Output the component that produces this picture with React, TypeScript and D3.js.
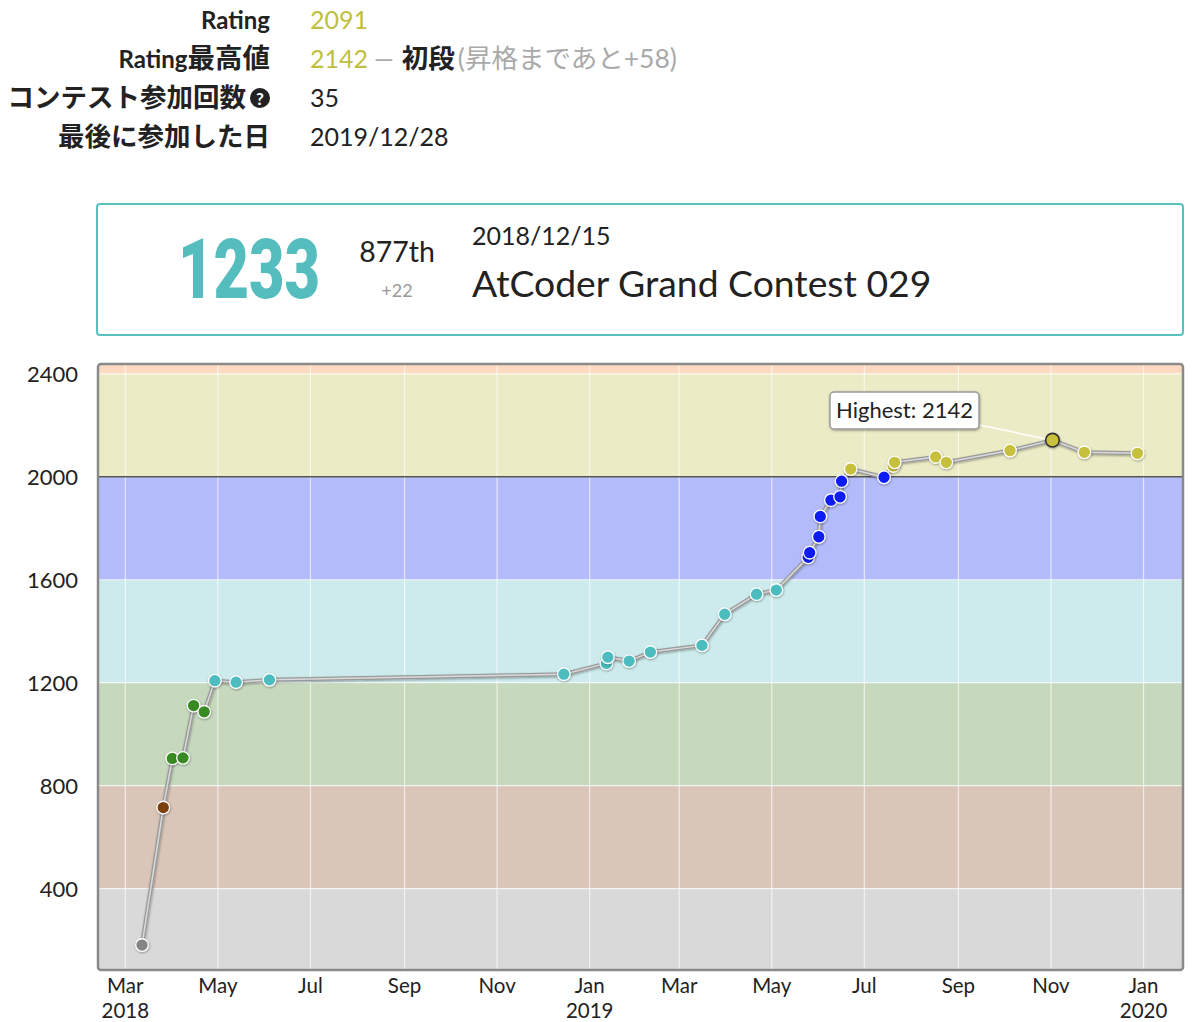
import React from "react";
import * as d3 from "d3";

// ---- data ----
const contestDates: string[] = [
  "2018-03-12", "2018-03-26", "2018-04-01", "2018-04-08", "2018-04-15", "2018-04-22",
  "2018-04-29", "2018-05-13", "2018-06-04", "2018-12-15", "2019-01-12", "2019-01-13",
  "2019-01-27", "2019-02-10", "2019-03-16", "2019-03-31", "2019-04-21", "2019-05-04",
  "2019-05-25", "2019-05-26", "2019-06-01", "2019-06-02", "2019-06-09", "2019-06-15",
  "2019-06-16", "2019-06-22", "2019-07-14", "2019-07-20", "2019-07-21", "2019-08-17",
  "2019-08-24", "2019-10-05", "2019-11-02", "2019-11-23", "2019-12-28",
];
const ratings: number[] = [
  181, 715, 906, 908, 1111, 1087, 1208, 1202, 1211, 1233, 1275, 1299,
  1284, 1319, 1345, 1466, 1544, 1560, 1687, 1705, 1767, 1846, 1909, 1922,
  1983, 2030, 1998, 2042, 2056, 2077, 2056, 2102, 2142, 2095, 2091,
];
const bandLimits: number[] = [0, 400, 800, 1200, 1600, 2000, 2400, 2800];
const bandFills: string[] = ["#d9d9d9", "#d9c6b8", "#c6d9bd", "#cdebec", "#b3bbfa", "#ebebc6", "#fcd9c1"];
const pointColors: string[] = ["#858585", "#7c3f10", "#398a22", "#4dbcbe", "#0a1ef5", "#c6c03c", "#ff8000"];
const yTicks: number[] = [400, 800, 1200, 1600, 2000, 2400];
const xTickDates: string[] = [
  "2018-03-01", "2018-05-01", "2018-07-01", "2018-09-01", "2018-11-01", "2019-01-01",
  "2019-03-01", "2019-05-01", "2019-07-01", "2019-09-01", "2019-11-01", "2020-01-01",
];
const xTickMonths: string[] = ["Mar", "May", "Jul", "Sep", "Nov", "Jan", "Mar", "May", "Jul", "Sep", "Nov", "Jan"];
const xTickYears: string[] = ["2018", "", "", "", "", "2019", "", "", "", "", "", "2020"];
const currentRating = "2091";
const highestRating = "2142";
const rankName = "初段";
const rankNote = "(昇格まであと+58)";
const contestCount = "35";
const lastDate = "2019/12/28";
const selPerf = "1233";
const selPlace = "877th";
const selDiff = "+22";
const selDate = "2018/12/15";
const selName = "AtCoder Grand Contest 029";

const parse = (s: string) => {
  const [y, m, d] = s.split("-").map(Number);
  return new Date(Date.UTC(y, m - 1, d));
};

const colorFor = (r: number) => {
  const i = Math.min(pointColors.length - 1, Math.floor(r / 400));
  return pointColors[i];
};

export default function App() {
  const L = 98, R = 1183, T = 364, B = 970;
  const x = d3.scaleUtc().domain([parse("2018-02-11"), parse("2020-01-27")]).range([L, R]);
  const y = d3.scaleLinear().domain([84, 2438]).range([B, T]);

  const pts = contestDates.map((d, i) => ({ date: parse(d), r: ratings[i] }));
  const line = d3.line<{ date: Date; r: number }>().x((p) => x(p.date)).y((p) => y(p.r));
  const pathD = line(pts) || "";

  const maxIdx = ratings.indexOf(d3.max(ratings) as number);
  const hp = pts[maxIdx];

  const font = "Lato, 'Noto Sans CJK JP', sans-serif";
  const rowY = [29, 68, 107, 146];
  const cjk = 26.5;

  return (
    <svg
      width={1200}
      height={1022}
      style={{ position: "absolute", left: 0, top: 0, background: "#fff" }}
      fontFamily={font}
    >
      <defs>
        <clipPath id="plot">
          <rect x={L} y={T} width={R - L} height={B - T} />
        </clipPath>
        <filter id="sh" x="-50%" y="-50%" width="200%" height="200%">
          <feDropShadow dx="0.5" dy="1" stdDeviation="1" floodColor="#000" floodOpacity="0.35" />
        </filter>
      </defs>

      {/* header info */}
      <text x={270} y={rowY[0]} textAnchor="end" fontSize={24} fontWeight="bold" fill="#222">Rating</text>
      <text x={270} y={rowY[1]} textAnchor="end" fontSize={24} fontWeight="bold" fill="#222">
        <tspan>Rating</tspan>
        <tspan fontSize={cjk + 1}>最高値</tspan>
      </text>
      <text x={246} y={rowY[2]} textAnchor="end" fontSize={cjk} fontWeight="bold" fill="#222">コンテスト参加回数</text>
      <circle cx={260} cy={98} r={10} fill="#222" />
      <text x={260} y={105} textAnchor="middle" fontSize={17} fontWeight="bold" fill="#fff">?</text>
      <text x={270} y={rowY[3]} textAnchor="end" fontSize={cjk} fontWeight="bold" fill="#222">最後に参加した日</text>

      <text x={310} y={rowY[0]} fontSize={25} fill="#c0c040">{currentRating}</text>
      <text x={310} y={rowY[1]} fontSize={25}>
        <tspan fill="#c0c040">{highestRating}</tspan>
        <tspan fill="#aaa" dx={6}>—</tspan>
        <tspan fill="#222" fontWeight="bold" fontSize={cjk} dx={8}>{rankName}</tspan>
        <tspan fill="#aaa" fontSize={cjk} dx={3}>{rankNote}</tspan>
      </text>
      <text x={310} y={rowY[2]} fontSize={25} fill="#222">{contestCount}</text>
      <text x={310} y={rowY[3]} fontSize={25} fill="#222">{lastDate}</text>

      {/* selected contest box */}
      <rect x={97} y={204} width={1086} height={131} rx={3} fill="#fff" stroke="#5bc0c0" strokeWidth={2} />
      <text transform="translate(178,298) scale(0.73,1)" fontSize={84} fontWeight={900}
        fontFamily="Roboto, sans-serif" fill="#55bdbe">{selPerf}</text>
      <text x={397} y={262} textAnchor="middle" fontSize={28.5} fill="#222">{selPlace}</text>
      <text x={397} y={297} textAnchor="middle" fontSize={18} fill="#999">{selDiff}</text>
      <text x={472} y={245} fontSize={25} fill="#222">{selDate}</text>
      <text x={472} y={297} fontSize={37.3} fill="#222">{selName}</text>

      {/* bands */}
      <g clipPath="url(#plot)">
        {bandFills.map((c, i) => (
          <rect key={i} x={L} width={R - L} y={y(bandLimits[i + 1])} height={y(bandLimits[i]) - y(bandLimits[i + 1])} fill={c} />
        ))}
        {bandLimits.slice(1, -1).map((v) => (
          <line key={v} x1={L} x2={R} y1={y(v)} y2={y(v)} stroke="#fff" strokeOpacity={0.7} strokeWidth={1.2} />
        ))}
        {xTickDates.map((d) => (
          <line key={d} x1={x(parse(d))} x2={x(parse(d))} y1={T} y2={B} stroke="#fff" strokeOpacity={0.65} strokeWidth={1.2} />
        ))}
        <line x1={L} x2={R} y1={y(2000)} y2={y(2000)} stroke="#555" strokeWidth={1.3} />
      </g>

      {/* frame */}
      <rect x={L} y={T} width={R - L} height={B - T} rx={3} fill="none" stroke="#8a8a8a" strokeWidth={2.5} />

      {/* axes labels */}
      {yTicks.map((v) => (
        <text key={v} x={78} y={y(v) + 8} textAnchor="end" fontSize={22} fill="#222">{v}</text>
      ))}
      {xTickDates.map((d, i) => (
        <text key={d} x={x(parse(d))} y={993} textAnchor="middle" fontSize={20.5} fill="#222">
          <tspan x={x(parse(d))}>{xTickMonths[i]}</tspan>
          {xTickYears[i] && (
            <tspan x={x(parse(d))} dy={25}>{xTickYears[i]}</tspan>
          )}
        </text>
      ))}

      {/* rating line */}
      <path d={pathD} fill="none" stroke="#9a9a9a" strokeWidth={4} strokeLinejoin="round" filter="url(#sh)" />
      <path d={pathD} fill="none" stroke="#dadada" strokeWidth={1.5} strokeLinejoin="round" />

      {/* highest label */}
      <line x1={979} y1={425} x2={x(hp.date)} y2={y(hp.r)} stroke="#fff" strokeWidth={1.5} />
      <rect x={830} y={392} width={149} height={37} rx={4} fill="#fff" stroke="#999" strokeWidth={1.5} filter="url(#sh)" />
      <text x={904.5} y={418} textAnchor="middle" fontSize={22} fill="#222">Highest: {highestRating}</text>

      {/* points */}
      {pts.map((p, i) => (
        <circle
          key={i}
          cx={x(p.date)}
          cy={y(p.r)}
          r={i === maxIdx ? 6.8 : 6.3}
          fill={colorFor(p.r)}
          stroke={i === maxIdx ? "#333" : "#fff"}
          strokeWidth={i === maxIdx ? 1.6 : 1.3}
          filter="url(#sh)"
        />
      ))}
    </svg>
  );
}
